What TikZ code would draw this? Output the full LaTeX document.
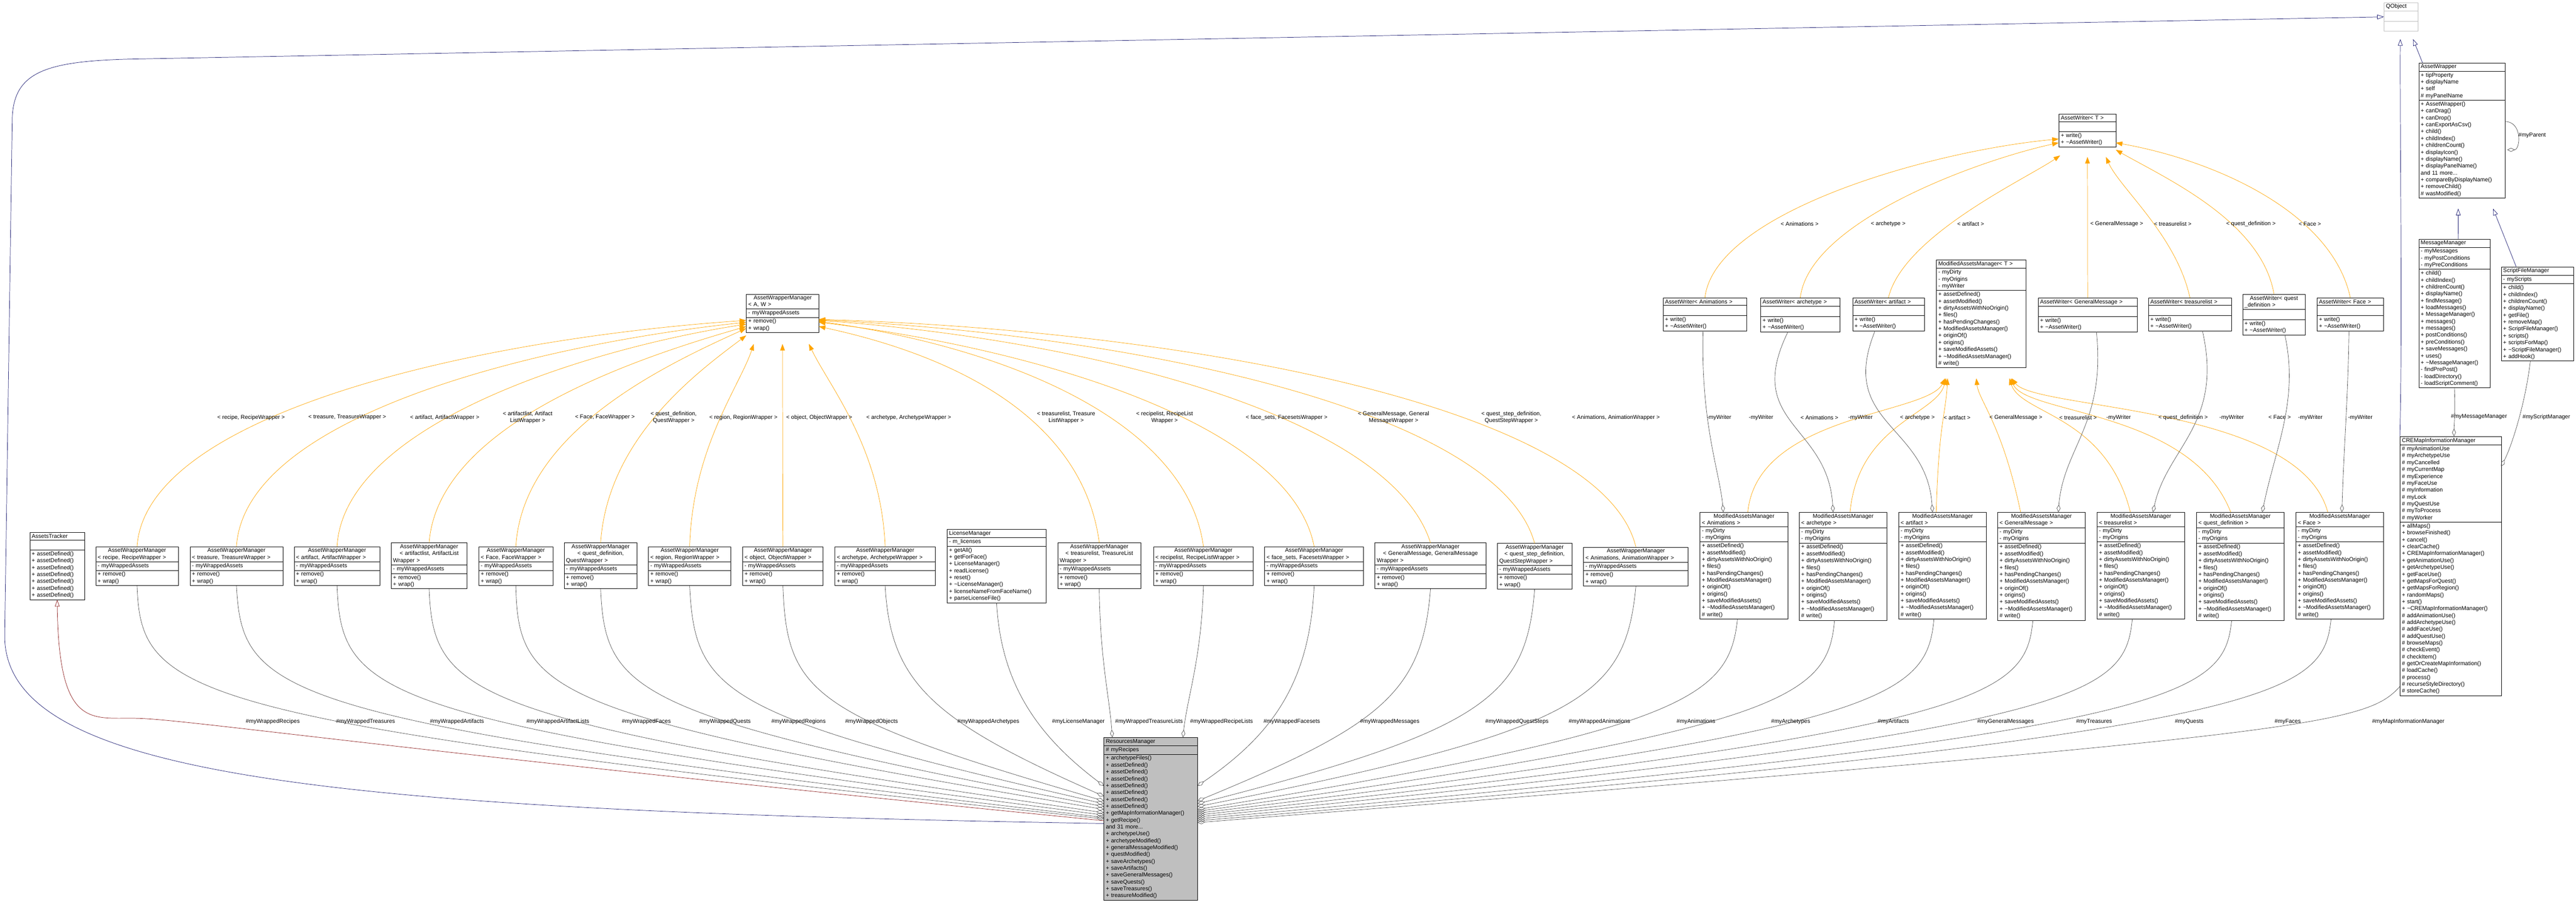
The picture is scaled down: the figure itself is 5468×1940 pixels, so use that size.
\documentclass[tikz,border=0pt]{standalone}
\usepackage{fontspec}
\setmainfont{Liberation Sans}
\usetikzlibrary{arrows.meta,shapes.multipart,calc}
\definecolor{torange}{HTML}{FFA500}
\definecolor{mblue}{HTML}{191970}
\definecolor{dred}{HTML}{8B1A1A}
\definecolor{dgray}{HTML}{404040}
\definecolor{rmgray}{HTML}{BFBFBF}
\newcommand\fs{\fontsize{12}{14.6}\selectfont}
\tikzset{
 umlbox/.style={draw=black, line width=0.8pt, rectangle split, rectangle split parts=3, anchor=north west, inner xsep=4pt, inner ysep=3pt, font=\fs, fill=white},
 inh/.style={mblue, line width=0.8pt, -{Triangle[open,length=14pt,width=10pt]}},
 inhr/.style={dred, line width=0.8pt, -{Triangle[open,length=14pt,width=10pt]}},
 tmpl/.style={torange, line width=0.8pt, -{Triangle[length=14pt,width=10pt]}},
 agg/.style={dgray, line width=0.7pt, -{Diamond[open,length=16pt,width=8pt]}},
 lbl/.style={font=\fs, inner sep=1pt, align=center}
}
\newcommand\umlcls[8][]{\node[umlbox,text width=#5pt-8pt,#1] (#2) at (#3,#4) {\centering #6\nodepart{second}\raggedright #7\nodepart{third}\raggedright #8};}
\newcommand\awmcls[5]{\umlcls{#1}{#2}{#3}{#4}{AssetWrapperManager\\#5}{- myWrappedAssets}{+ remove()\\+ wrap()}}
\newcommand\awcls[5]{\umlcls{#1}{#2}{#3}{#4}{#5}{\strut}{+ write()\\+ \textasciitilde AssetWriter()}}
\newcommand\mamcls[5]{\umlcls{#1}{#2}{#3}{#4}{ModifiedAssetsManager\\#5}{- myDirty\\- myOrigins}{+ assetDefined()\\+ assetModified()\\+ dirtyAssetsWithNoOrigin()\\+ files()\\+ hasPendingChanges()\\+ ModifiedAssetsManager()\\+ originOf()\\+ origins()\\+ saveModifiedAssets()\\+ \textasciitilde ModifiedAssetsManager()\\\# write()}}
\begin{document}
\begin{tikzpicture}[x=1pt,y=-1pt]
\useasboundingbox (0,0) rectangle (5468,1940);
% ---------- classes ----------
\umlcls[draw=rmgray]{qo}{5060}{5}{72}{QObject}{\strut}{\strut}
\umlcls{aw}{5134}{133}{183}{AssetWrapper}{+ tipProperty\\+ displayName\\+ self\\\# myPanelName}{+ AssetWrapper()\\+ canDrag()\\+ canDrop()\\+ canExportAsCsv()\\+ child()\\+ childIndex()\\+ childrenCount()\\+ displayIcon()\\+ displayName()\\+ displayPanelName()\\and 11 more...\\+ compareByDisplayName()\\+ removeChild()\\\# wasModified()}
\umlcls{mm}{5134}{507}{151}{MessageManager}{- myMessages\\- myPostConditions\\- myPreConditions}{+ child()\\+ childIndex()\\+ childrenCount()\\+ displayName()\\+ findMessage()\\+ loadMessages()\\+ MessageManager()\\+ messages()\\+ messages()\\+ postConditions()\\+ preConditions()\\+ saveMessages()\\+ uses()\\+ \textasciitilde MessageManager()\\- findPrePost()\\- loadDirectory()\\- loadScriptComment()}
\umlcls{sfm}{5309}{566}{153}{ScriptFileManager}{- myScripts}{+ child()\\+ childIndex()\\+ childrenCount()\\+ displayName()\\+ getFile()\\+ removeMap()\\+ ScriptFileManager()\\+ scripts()\\+ scriptsForMap()\\+ \textasciitilde ScriptFileManager()\\+ addHook()}
\umlcls{cre}{5094}{926}{215}{CREMapInformationManager}{\# myAnimationUse\\\# myArchetypeUse\\\# myCancelled\\\# myCurrentMap\\\# myExperience\\\# myFaceUse\\\# myInformation\\\# myLock\\\# myQuestUse\\\# myToProcess\\\# myWorker}{+ allMaps()\\+ browseFinished()\\+ cancel()\\+ clearCache()\\+ CREMapInformationManager()\\+ getAnimationUse()\\+ getArchetypeUse()\\+ getFaceUse()\\+ getMapsForQuest()\\+ getMapsForRegion()\\+ randomMaps()\\+ start()\\+ \textasciitilde CREMapInformationManager()\\\# addAnimationUse()\\\# addArchetypeUse()\\\# addFaceUse()\\\# addQuestUse()\\\# browseMaps()\\\# checkEvent()\\\# checkItem()\\\# getOrCreateMapInformation()\\\# loadCache()\\\# process()\\\# recurseStyleDirectory()\\\# storeCache()}
\umlcls{awT}{4370}{242}{121}{AssetWriter< T >}{\strut}{+ write()\\+ \textasciitilde AssetWriter()}
\umlcls{mT}{4110}{551}{190}{ModifiedAssetsManager< T >}{- myDirty\\- myOrigins\\- myWriter}{+ assetDefined()\\+ assetModified()\\+ dirtyAssetsWithNoOrigin()\\+ files()\\+ hasPendingChanges()\\+ ModifiedAssetsManager()\\+ originOf()\\+ origins()\\+ saveModifiedAssets()\\+ \textasciitilde ModifiedAssetsManager()\\\# write()}
\umlcls{awm}{1584}{624}{154}{AssetWrapperManager\\< A, W >}{- myWrappedAssets}{+ remove()\\+ wrap()}
\umlcls{at}{63}{1130}{116}{AssetsTracker}{\strut}{+ assetDefined()\\+ assetDefined()\\+ assetDefined()\\+ assetDefined()\\+ assetDefined()\\+ assetDefined()\\+ assetDefined()}
\umlcls{lic}{2010}{1123}{210}{LicenseManager}{- m\_licenses}{+ getAll()\\+ getForFace()\\+ LicenseManager()\\+ readLicense()\\+ reset()\\+ \textasciitilde LicenseManager()\\+ licenseNameFromFaceName()\\+ parseLicenseFile()}
\umlcls[fill=rmgray]{rm}{2343}{1565}{199}{ResourcesManager}{\# myRecipes}{+ archetypeFiles()\\+ assetDefined()\\+ assetDefined()\\+ assetDefined()\\+ assetDefined()\\+ assetDefined()\\+ assetDefined()\\+ assetDefined()\\+ getMapInformationManager()\\+ getRecipe()\\and 31 more...\\+ archetypeUse()\\+ archetypeModified()\\+ generalMessageModified()\\+ questModified()\\+ saveArchetypes()\\+ saveArtifacts()\\+ saveGeneralMessages()\\+ saveQuests()\\+ saveTreasures()\\+ treasureModified()}
\awmcls{wRec}{203}{1160}{175}{< recipe, RecipeWrapper >}
\awmcls{wTre}{403}{1160}{197}{< treasure, TreasureWrapper >}
\awmcls{wArt}{624}{1160}{182}{< artifact, ArtifactWrapper >}
\awmcls{wAL}{830}{1152}{161}{< artifactlist, ArtifactList\\Wrapper >}
\awmcls{wFace}{1016}{1160}{157}{< Face, FaceWrapper >}
\awmcls{wQ}{1197}{1152}{155}{< quest\_definition,\\QuestWrapper >}
\awmcls{wReg}{1376}{1160}{175}{< region, RegionWrapper >}
\awmcls{wObj}{1576}{1160}{171}{< object, ObjectWrapper >}
\awmcls{wArch}{1772}{1160}{213}{< archetype, ArchetypeWrapper >}
\awmcls{wTL}{2245}{1152}{176}{< treasurelist, TreasureList\\Wrapper >}
\awmcls{wRL}{2448}{1160}{212}{< recipelist, RecipeListWrapper >}
\awmcls{wFS}{2684}{1160}{210}{< face\_sets, FacesetsWrapper >}
\awmcls{wGM}{2918}{1152}{236}{< GeneralMessage, GeneralMessage\\Wrapper >}
\awmcls{wQS}{3178}{1153}{158}{< quest\_step\_definition,\\QuestStepWrapper >}
\awmcls{wAn}{3361}{1161}{222}{< Animations, AnimationWrapper >}
\awcls{awAn}{3530}{632}{177}{AssetWriter< Animations >}
\awcls{awArch}{3737}{632}{168}{AssetWriter< archetype >}
\awcls{awArt}{3932}{632}{152}{AssetWriter< artifact >}
\awcls{awGM}{4326}{632}{210}{AssetWriter< GeneralMessage >}
\awcls{awTL}{4560}{632}{176}{AssetWriter< treasurelist >}
\awcls{awQD}{4760}{624}{133}{AssetWriter< quest\\\_definition >}
\awcls{awFace}{4918}{632}{141}{AssetWriter< Face >}
\mamcls{mAn}{3608}{1087}{187}{< Animations >}
\mamcls{mArch}{3819}{1087}{186}{< archetype >}
\mamcls{mArt}{4030}{1087}{186}{< artifact >}
\mamcls{mGM}{4240}{1087}{186}{< GeneralMessage >}
\mamcls{mTL}{4451}{1087}{186}{< treasurelist >}
\mamcls{mQD}{4662}{1087}{186}{< quest\_definition >}
\mamcls{mFace}{4873}{1087}{186}{< Face >}
% ---------- anchor coordinates ----------
\foreach \n/\y in {L1/1738,L2/1735,L3/1730,L4/1725,L5/1718,L6/1712,L7/1706,L8/1700,L9/1690,L10/1668,LR/1742,LB/1748}
  \coordinate (rm\n) at (2343,\y);
\foreach \n/\y in {R1/1668,R2/1700,R3/1706,R4/1712,R5/1718,R6/1722,R7/1726,R8/1730,R9/1734,R10/1738,R11/1742,R12/1746}
  \coordinate (rm\n) at (2542,\y);
\coordinate (rmT1) at (2361,1565);
\coordinate (rmT2) at (2511,1565);
% ---------- inheritance ----------
\draw[inh] (rmLB) .. controls (700,1720) and (10,1650) .. (10,1350) -- (26,250) .. controls (30,150) and (100,128) .. (300,125) -- (qo.west);
\draw[inh] (cre.north west) ++(0,0) .. controls (5100,700) and (5094,300) .. (5095,83);
\draw[inh] (aw.north west) ++(8,0) -- (5122,83);
\draw[inh] (mm.north) ++(8,0) -- (5218,443);
\draw[inh] (sfm.north) ++(-45,0) -- (5292,443);
\draw[inhr] (rmLR) .. controls (900,1600) and (420,1530) .. (300,1525) .. controls (200,1520) and (125,1560) .. (at.south);
% ---------- AssetWrapper self ----------
\draw[agg] (5317,258) .. controls (5355,258) and (5350,318) .. (5322,318);
\node[lbl] (lp) at (5375,287) {\#myParent};
% ---------- template edges to AWM ----------
\draw[tmpl] (wRec.north) .. controls (310,880) and (1000,720) .. (1584,680);
\draw[tmpl] (wTre.north) .. controls (520,880) and (1150,730) .. (1584,684);
\draw[tmpl] (wArt.north) .. controls (730,900) and (1250,740) .. (1584,688);
\draw[tmpl] (wAL.north) .. controls (930,900) and (1350,760) .. (1584,693);
\draw[tmpl] (wFace.north) .. controls (1110,920) and (1400,780) .. (1584,697);
\draw[tmpl] (wQ.north) .. controls (1290,930) and (1480,790) .. (1584,712);
\draw[tmpl] (wReg.north) .. controls (1470,950) and (1570,820) .. (1600,730);
\draw[tmpl] (wObj.north) -- (1661,730);
\draw[tmpl] (wArch.north) .. controls (1870,950) and (1760,820) .. (1717,730);
\draw[tmpl] (wTL.north) .. controls (2300,900) and (2050,760) .. (1738,693);
\draw[tmpl] (wRL.north) .. controls (2520,900) and (2150,740) .. (1738,682);
\draw[tmpl] (wFS.north) .. controls (2740,900) and (2200,740) .. (1738,684);
\draw[tmpl] (wGM.north) .. controls (2950,880) and (2300,720) .. (1738,680);
\draw[tmpl] (wQS.north) .. controls (3180,870) and (2400,710) .. (1738,679);
\draw[tmpl] (wAn.north) .. controls (3400,860) and (2500,700) .. (1738,678);
\foreach \x/\t in {533/{< recipe, RecipeWrapper >},737/{< treasure, TreasureWrapper >},944/{< artifact, ArtifactWrapper >},1120/{< artifactlist, Artifact\\ListWrapper >},1284/{< Face, FaceWrapper >},1430/{< quest\_definition,\\QuestWrapper >},1578/{< region, RegionWrapper >},1739/{< object, ObjectWrapper >},1929/{< archetype, ArchetypeWrapper >},2263/{< treasurelist, Treasure\\ListWrapper >},2472/{< recipelist, RecipeList\\Wrapper >},2731/{< face\_sets, FacesetsWrapper >},2958/{< GeneralMessage, General\\MessageWrapper >},3208/{< quest\_step\_definition,\\QuestStepWrapper >},3430/{< Animations, AnimationWrapper >}}
  \node[lbl] at (\x,886) {\t};
% ---------- template edges to AssetWriter<T> ----------
\draw[tmpl] (awAn.north) .. controls (3640,450) and (4100,320) .. (4370,295);
\draw[tmpl] (awArch.north) .. controls (3840,470) and (4200,340) .. (4370,303);
\draw[tmpl] (awArt.north) .. controls (4040,500) and (4300,380) .. (4373,330);
\draw[tmpl] (awGM.north) ++(0,0) -- (4431,333);
\draw[tmpl] (awTL.north) .. controls (4620,500) and (4500,400) .. (4470,333);
\draw[tmpl] (awQD.north) .. controls (4800,470) and (4600,380) .. (4491,318);
\draw[tmpl] (awFace.north) .. controls (4950,450) and (4700,340) .. (4491,303);
\foreach \x/\t in {3820/{< Animations >},4008/{< archetype >},4183/{< artifact >},4493/{< GeneralMessage >},4612/{< treasurelist >},4778/{< quest\_definition >},4903/{< Face >}}
  \node[lbl] at (\x,475) {\t};
% ---------- template edges to MAM<T> ----------
\draw[tmpl] ($(mAn.north west)+(102,0)$) .. controls (3730,880) and (4090,880) .. (4129,803);
\draw[tmpl] ($(mArch.north west)+(108,0)$) .. controls (3945,900) and (4110,880) .. (4131,803);
\draw[tmpl] ($(mArt.north west)+(80,0)$) .. controls (4115,900) and (4130,880) .. (4134,803);
\draw[tmpl] ($(mGM.north west)+(49,0)$) .. controls (4250,900) and (4200,850) .. (4195,803);
\draw[tmpl] ($(mTL.north west)+(71,0)$) .. controls (4470,880) and (4290,880) .. (4265,803);
\draw[tmpl] ($(mQD.north west)+(73,0)$) .. controls (4650,870) and (4300,880) .. (4268,803);
\draw[tmpl] ($(mFace.north west)+(68,0)$) .. controls (4880,860) and (4320,870) .. (4270,803);
\foreach \x/\t in {3862/{< Animations >},4070/{< archetype >},4154/{< artifact >},4279/{< GeneralMessage >},4411/{< treasurelist >},4634/{< quest\_definition >},4839/{< Face >}}
  \node[lbl] at (\x,886) {\t};
% ---------- myWriter aggregations ----------
\draw[agg] ($(awAn.south west)+(85,0)$) .. controls (3610,900) and (3650,1000) .. ($(mAn.north west)+(50,0)$);
\draw[agg] ($(awArch.south west)+(58,0)$) .. controls (3700,900) and (3880,900) .. ($(mArch.north west)+(72,0)$);
\draw[agg] ($(awArt.south west)+(48,0)$) .. controls (3900,900) and (4090,900) .. ($(mArt.north west)+(72,0)$);
\draw[agg] ($(awGM.south west)+(124,0)$) .. controls (4470,900) and (4380,950) .. ($(mGM.north west)+(129,0)$);
\draw[agg] ($(awTL.south west)+(115,0)$) .. controls (4720,900) and (4600,950) .. ($(mTL.north west)+(119,0)$);
\draw[agg] ($(awQD.south west)+(90,0)$) .. controls (4880,850) and (4830,950) .. ($(mQD.north west)+(140,0)$);
\draw[agg] ($(awFace.south west)+(68,0)$) .. controls (4984,850) and (4975,950) .. ($(mFace.north west)+(98,0)$);
\foreach \x in {3649,3738,3949,4497,4737,4904,5010}
  \node[lbl] at (\x,886) {-myWriter};
% ---------- CRE aggregations ----------
\draw[agg] (mm.south) ++(0,0) .. controls (5212,880) and (5209,900) .. (5209,926);
\draw[agg] ($(sfm.south west)+(62,0)$) .. controls (5360,860) and (5330,950) .. (5309,990);
\node[lbl] at (5262,885) {\#myMessageManager};
\node[lbl] at (5405,885) {\#myScriptManager};
% ---------- aggregations into ResourcesManager (left) ----------
\draw[agg] (wRec.south) .. controls (300,1480) and (380,1530) .. (rmL1);
\draw[agg] (wTre.south) .. controls (515,1480) and (580,1530) .. (rmL2);
\draw[agg] (wArt.south) .. controls (725,1480) and (790,1530) .. (rmL3);
\draw[agg] (wAL.south) .. controls (920,1480) and (990,1530) .. (rmL4);
\draw[agg] (wFace.south) .. controls (1100,1470) and (1160,1520) .. (rmL5);
\draw[agg] (wQ.south) .. controls (1285,1470) and (1340,1520) .. (rmL6);
\draw[agg] (wReg.south) .. controls (1475,1470) and (1530,1520) .. (rmL7);
\draw[agg] (wObj.south) .. controls (1670,1470) and (1720,1520) .. (rmL8);
\draw[agg] (wArch.south) .. controls (1890,1450) and (1980,1530) .. (rmL9);
\draw[agg] (lic.south) .. controls (2125,1450) and (2200,1560) .. (rmL10);
\draw[agg] (wTL.south) .. controls (2335,1400) and (2355,1480) .. (rmT1);
\draw[agg] (wRL.south) .. controls (2550,1400) and (2520,1480) .. (rmT2);
% ---------- aggregations into ResourcesManager (right) ----------
\draw[agg] (wFS.south) .. controls (2780,1450) and (2700,1560) .. (rmR1);
\draw[agg] (wGM.south) .. controls (3020,1470) and (2930,1540) .. (rmR2);
\draw[agg] (wQS.south) .. controls (3240,1480) and (3150,1550) .. (rmR3);
\draw[agg] (wAn.south) .. controls (3450,1480) and (3360,1550) .. (rmR4);
\draw[agg] ($(mAn.south west)+(80,0)$) .. controls (3670,1480) and (3580,1550) .. (rmR5);
\draw[agg] ($(mArch.south west)+(75,0)$) .. controls (3880,1480) and (3790,1550) .. (rmR6);
\draw[agg] ($(mArt.south west)+(75,0)$) .. controls (4090,1480) and (4000,1550) .. (rmR7);
\draw[agg] ($(mGM.south west)+(75,0)$) .. controls (4300,1480) and (4210,1550) .. (rmR8);
\draw[agg] ($(mTL.south west)+(75,0)$) .. controls (4510,1480) and (4420,1550) .. (rmR9);
\draw[agg] ($(mQD.south west)+(75,0)$) .. controls (4720,1480) and (4630,1555) .. (rmR10);
\draw[agg] ($(mFace.south west)+(75,0)$) .. controls (4930,1480) and (4840,1555) .. (rmR11);
\draw[agg] ($(cre.south west)+(0,-20)$) .. controls (5020,1540) and (4900,1560) .. (rmR12);
\foreach \x/\t in {579/WrappedRecipes,776/WrappedTreasures,970/WrappedArtifacts,1184/WrappedArtifactLists,1372/WrappedFaces,1539/WrappedQuests,1695/WrappedRegions,1850/WrappedObjects,2098/WrappedArchetypes,2289/LicenseManager,2439/WrappedTreasureLists,2593/WrappedRecipeLists,2742/WrappedFacesets,2950/WrappedMessages,3220/WrappedQuestSteps,3395/WrappedAnimations,3600/Animations,3801/Archetypes,4019/Artifacts,4257/GeneralMessages,4445/Treasures,4647/Quests,4856/Faces,5112/MapInformationManager}
  \node[lbl] at (\x,1532) {\#my\t};
\end{tikzpicture}
\end{document}
